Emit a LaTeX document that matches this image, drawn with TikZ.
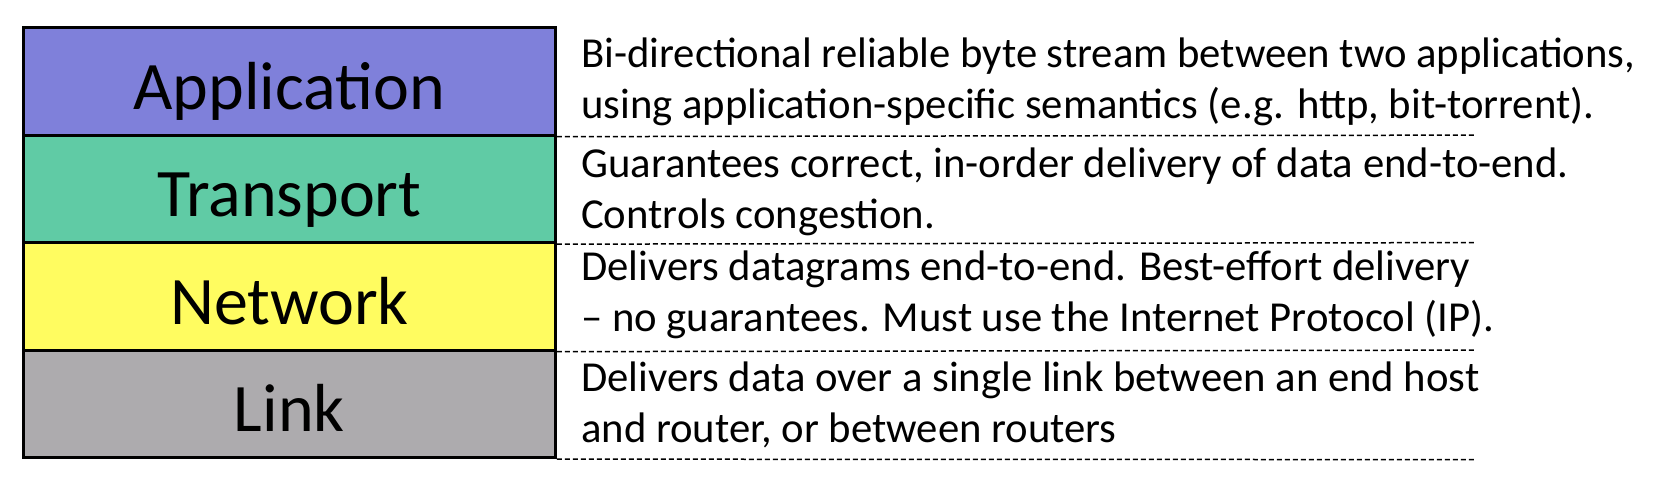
\documentclass[tikz,border=0pt]{standalone}
\usepackage{fontspec}
\setmainfont{Carlito}
\definecolor{appc}{RGB}{127,128,218}
\definecolor{transc}{RGB}{96,203,165}
\definecolor{netc}{RGB}{255,252,96}
\definecolor{linkc}{RGB}{173,171,174}
\begin{document}
\begin{tikzpicture}[x=1pt,y=-1pt,
  layer/.style={draw=black, line width=3pt, minimum width=532pt, minimum height=107.5pt,
    inner sep=0pt, text height=56pt, text depth=0pt, font=\fontsize{68}{72}\selectfont},
  desc/.style={anchor=west, align=left, inner sep=0pt, font=\fontsize{42.7}{51}\selectfont},
  sepline/.style={line width=1.5pt, dash pattern=on 5pt off 3pt}]
\fill[white] (0,0) rectangle (1668,496);
\useasboundingbox (0,0) rectangle (1668,496);
\node[layer, fill=appc]   (app)   at (289.4,81.4)  {Application};
\node[layer, fill=transc] (trans) at (289.4,188.9) {Transport};
\node[layer, fill=netc]   (net)   at (289.4,296.4) {Network};
\node[layer, fill=linkc]  (link)  at (289.4,403.9) {Link};
\node[desc] (dapp)   at (581,82)  {Bi-directional reliable byte stream between two applications,\\using application-specific semantics (e.g. http, bit-torrent).};
\node[desc] (dtrans) at (581,192) {Guarantees correct, in-order delivery of data end-to-end.\\Controls congestion.};
\node[desc] (dnet)   at (581,295) {Delivers datagrams end-to-end. Best-effort delivery\\– no guarantees. Must use the Internet Protocol (IP).};
\node[desc] (dlink)  at (581,405) {Delivers data over a single link between an end host\\and router, or between routers};
\coordinate (e1) at (1476,135.1);
\coordinate (e2) at (1476,242.6);
\coordinate (e3) at (1476,350.1);
\coordinate (e4) at (1476,459.6);
\draw[sepline] (app.south east) -- (e1);
\draw[sepline] (trans.south east) -- (e2);
\draw[sepline] (net.south east) -- (e3);
\draw[sepline] (link.south east) -- (e4);
\end{tikzpicture}
\end{document}
